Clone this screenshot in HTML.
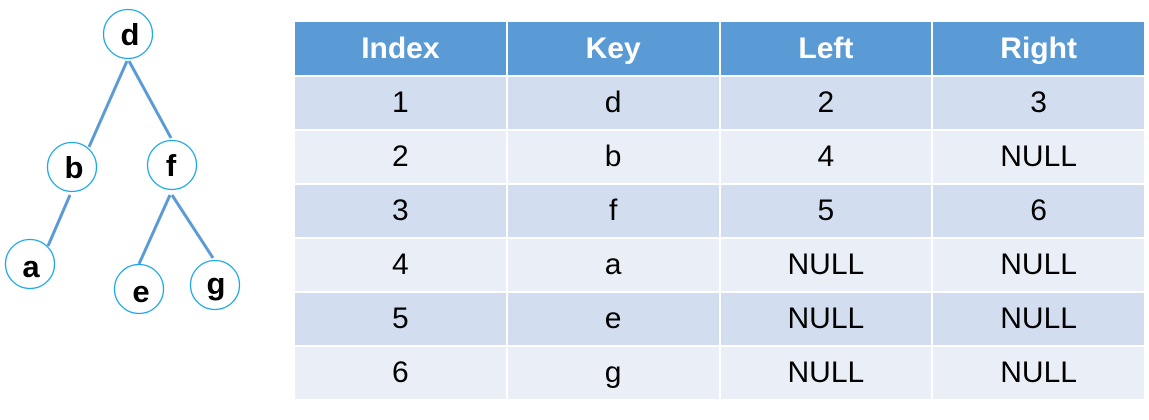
<!DOCTYPE html>
<html><head><meta charset="utf-8"><style>
body{margin:0;width:1149px;height:420px;background:#fff;overflow:hidden;font-family:"Liberation Sans",sans-serif}
svg{position:absolute;left:0;top:0}
table{position:absolute;left:293px;top:22px;width:853px;table-layout:fixed;border-collapse:collapse;font-family:"Liberation Sans",sans-serif}
td,th{text-align:center;border:2px solid #fff;padding:0;font-size:30px;color:#000;font-weight:normal;box-sizing:border-box}
th{background:#5b9bd5;color:#fff;font-weight:bold;height:54px;border-top:none}
tr.o td{background:#d2deef;height:54px}
tr.e td{background:#eaeff7;height:54px}
</style></head><body>
<svg width="290" height="420">
<g stroke="#5b9bd5" stroke-width="3">
<line x1="127" y1="61" x2="89" y2="147"/>
<line x1="129" y1="61" x2="171" y2="138"/>
<line x1="70" y1="195" x2="48" y2="246"/>
<line x1="170" y1="195" x2="139" y2="264"/>
<line x1="172" y1="195" x2="213" y2="258"/>
</g>
<g fill="#fff" stroke="#1ca8e6" stroke-width="1.3">
<circle cx="128" cy="34" r="24.5"/>
<circle cx="72" cy="167" r="24.5"/>
<circle cx="172" cy="165" r="24.5"/>
<circle cx="30" cy="264" r="24.5"/>
<circle cx="139" cy="289" r="24.5"/>
<circle cx="215" cy="285" r="24.5"/>
</g>
<g font-family="Liberation Sans, sans-serif" font-weight="bold" font-size="31" text-anchor="middle">
<text x="130" y="45">d</text><text x="74" y="178">b</text><text x="171" y="176">f</text>
<text x="31" y="277">a</text><text x="141" y="302">e</text><text x="216" y="294">g</text>
</g>
</svg>
<table>
<tr><th>Index</th><th>Key</th><th>Left</th><th>Right</th></tr>
<tr class="o"><td>1</td><td>d</td><td>2</td><td>3</td></tr>
<tr class="e"><td>2</td><td>b</td><td>4</td><td>NULL</td></tr>
<tr class="o"><td>3</td><td>f</td><td>5</td><td>6</td></tr>
<tr class="e"><td>4</td><td>a</td><td>NULL</td><td>NULL</td></tr>
<tr class="o"><td>5</td><td>e</td><td>NULL</td><td>NULL</td></tr>
<tr class="e"><td>6</td><td>g</td><td>NULL</td><td>NULL</td></tr>
</table>
</body></html>
